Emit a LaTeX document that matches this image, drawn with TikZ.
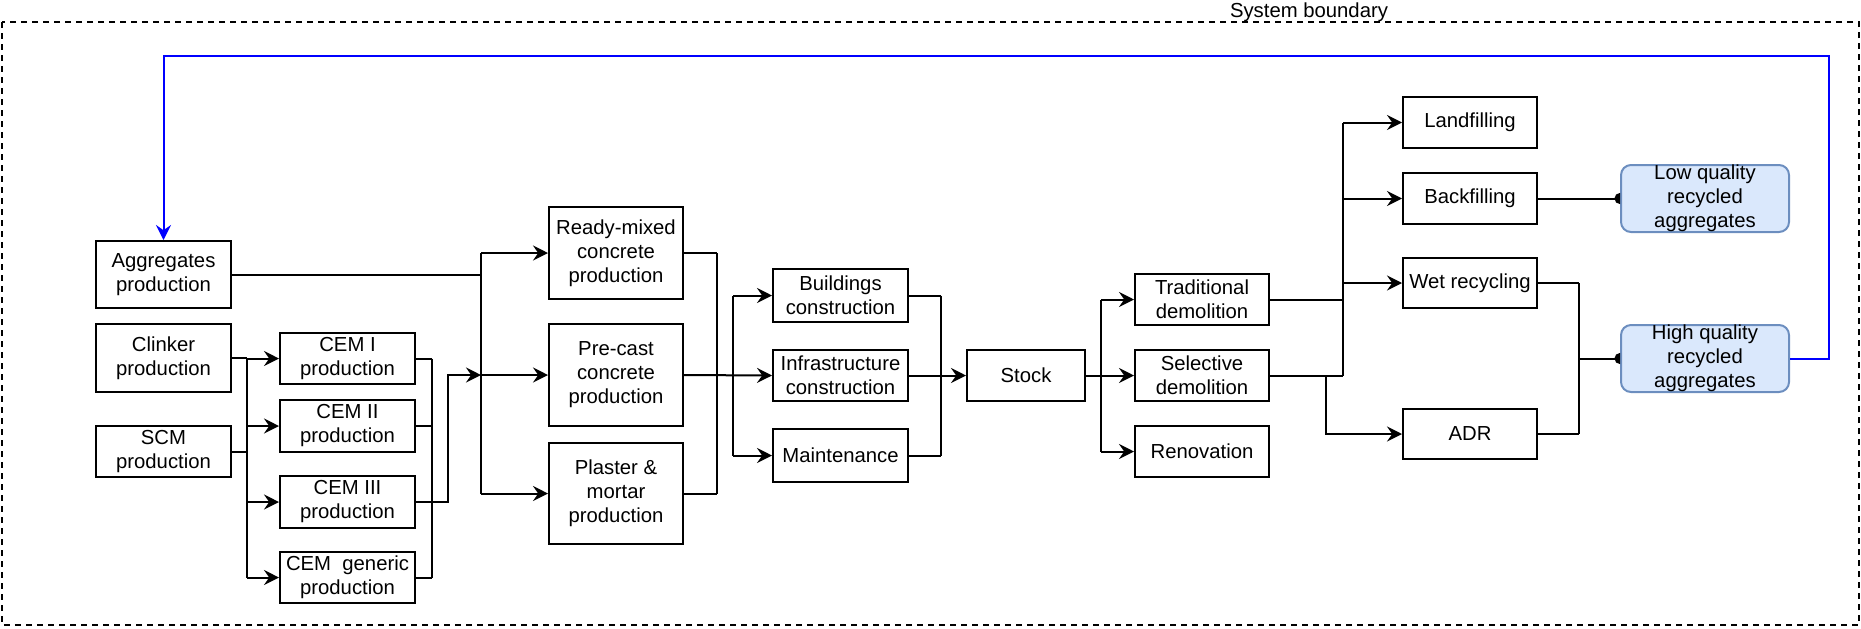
\documentclass[tikz,border=0pt]{standalone}
\usepackage{fontspec}
\setmainfont{Liberation Sans}
\usetikzlibrary{arrows.meta}

\definecolor{rafill}{HTML}{DAE8FC}
\definecolor{radraw}{HTML}{6C8EBF}
\definecolor{loopblue}{HTML}{0000FF}

% box given by its corners (x1,y1)--(x2,y2) in pixel units
\newcommand\pbox[7][]{%
  \node[box,#1,minimum width={(#5-#3)*0.5pt},minimum height={(#6-#4)*0.5pt}]
    (#2) at ({(#3+#5)/2},{(#4+#6)/2}) {#7};}
% half disc marking the end of a link on a box's left side
\newcommand\halfdot[1]{%
  \fill ([yshift=2.8pt]#1) arc[start angle=90,end angle=270,radius=2.8pt] -- cycle;}

\begin{document}
\begin{tikzpicture}[x=0.5pt,y=-0.5pt,
  box/.style={draw,line width=1pt,inner sep=0pt,align=center,
    font=\fontsize{10.15}{12}\selectfont},
  soft/.style={draw=radraw,fill=rafill,rounded corners=5pt,inner ysep=-3pt},
  link/.style={line width=1pt},
  arr/.style={link,-{Stealth[length=7.5pt,width=7.5pt,inset=2.6pt]}},
  loopline/.style={link,draw=loopblue,-{Stealth[length=7.5pt,width=7.5pt,inset=2.6pt,color=loopblue]}}]

\useasboundingbox (0,0) rectangle (1861,628);

% system boundary
\draw[line width=0.7pt,dash pattern=on 3pt off 2.5pt] (2,22) rectangle (1859,625);
\node[anchor=base,inner sep=0pt,font=\fontsize{10.15}{12}\selectfont] (sb) at (1309,17) {System boundary};

% raw materials and cements
\pbox{agg}{96}{241}{231}{308}{Aggregates\\production}
\pbox{clk}{96}{324}{231}{392}{Clinker\\production}
\pbox{scm}{96}{426}{231}{477}{SCM\\production}
\pbox{cem1}{280}{333}{415}{384}{CEM I\\production}
\pbox{cem2}{280}{400}{415}{452}{CEM II\\production}
\pbox{cem3}{280}{476}{415}{528}{CEM III\\production}
\pbox{cemg}{280}{552}{415}{603}{CEM\ \ generic\\production}

% products
\pbox{rmc}{549}{207}{683}{299}{Ready-mixed\\concrete\\production}
\pbox{pcc}{549}{324}{683}{426}{Pre-cast\\concrete\\production}
\pbox{pmp}{549}{443}{683}{544}{Plaster \&\\mortar\\production}

% uses
\pbox{bld}{773}{269}{908}{322}{Buildings\\construction}
\pbox{inf}{773}{350}{908}{401}{Infrastructure\\construction}
\pbox{mnt}{773}{429}{908}{482}{Maintenance}
\pbox{stk}{967}{350}{1085}{401}{Stock}

% end of life
\pbox{trd}{1135}{274}{1269}{325}{Traditional\\demolition}
\pbox{sel}{1135}{350}{1269}{401}{Selective\\demolition}
\pbox{ren}{1135}{426}{1269}{477}{Renovation}
\pbox{lnd}{1403}{97}{1537}{148}{Landfilling}
\pbox{bck}{1403}{173}{1537}{224}{Backfilling}
\pbox{wet}{1403}{258}{1537}{308}{Wet recycling}
\pbox{adr}{1403}{409}{1537}{459}{ADR}
\pbox[soft]{lqa}{1621}{165}{1789}{232}{Low quality\\recycled\\aggregates}
\pbox[soft]{hqa}{1621}{325}{1789}{392}{High quality\\recycled\\aggregates}

% vertical buses
\coordinate (bA) at (481,0);
\coordinate (bB) at (247,0);
\coordinate (bC) at (432,0);
\coordinate (bD) at (448,0);
\coordinate (bE) at (717,0);
\coordinate (bF) at (733,0);
\coordinate (bG) at (941,0);
\coordinate (bH) at (1101,0);
\coordinate (bI) at (1343,0);
\coordinate (bJ) at (1326,0);
\coordinate (bK) at (1579,0);
\coordinate (ret) at (1829,56);

% clinker and SCM to the cements
\draw[link] (clk.east) -- (clk.east -| bB);
\draw[link] (scm.east) -- (scm.east -| bB);
\draw[link] (cem1.west -| bB) -- (cemg.west -| bB);
\foreach \c in {cem1,cem2,cem3,cemg}
  \draw[arr] (\c.west -| bB) -- (\c.west);

% cements to the products
\foreach \c in {cem1,cem2,cemg}
  \draw[link] (\c.east) -- (\c.east -| bC);
\draw[link] (cem1.east -| bC) -- (cemg.east -| bC);
\draw[arr] (cem3.east) -- (cem3.east -| bD) |- (pcc.west -| bA);
\draw[link] (agg.east) -- (agg.east -| bA);
\draw[link] (rmc.west -| bA) -- (pmp.west -| bA);
\foreach \p in {rmc,pcc,pmp}
  \draw[arr] (\p.west -| bA) -- (\p.west);

% products to uses
\draw[link] (rmc.east) -- (rmc.east -| bE);
\draw[link] (pmp.east) -- (pmp.east -| bE);
\draw[link] (rmc.east -| bE) -- (pmp.east -| bE);
\draw[arr] (pcc.east) -- (inf.west);
\draw[link] (bld.west -| bF) -- (mnt.west -| bF);
\draw[arr] (bld.west -| bF) -- (bld.west);
\draw[arr] (mnt.west -| bF) -- (mnt.west);

% uses to stock
\draw[link] (bld.east) -- (bld.east -| bG);
\draw[link] (mnt.east) -- (mnt.east -| bG);
\draw[link] (bld.east -| bG) -- (mnt.east -| bG);
\draw[arr] (inf.east) -- (stk.west);

% stock to end of life
\draw[arr] (stk.east) -- (sel.west);
\draw[link] (trd.west -| bH) -- (ren.west -| bH);
\draw[arr] (trd.west -| bH) -- (trd.west);
\draw[arr] (ren.west -| bH) -- (ren.west);

% demolition to treatment
\draw[link] (trd.east) -- (trd.east -| bI);
\draw[link] (sel.east) -- (sel.east -| bI);
\draw[link] (lnd.west -| bI) -- (sel.east -| bI);
\foreach \t in {lnd,bck,wet}
  \draw[arr] (\t.west -| bI) -- (\t.west);
\draw[arr] (sel.east -| bJ) |- (adr.west);

% treatment to recycled aggregates
\draw[link] (bck.east) -- (lqa.west);
\halfdot{lqa.west}
\draw[link] (wet.east) -- (wet.east -| bK);
\draw[link] (adr.east) -- (adr.east -| bK);
\draw[link] (wet.east -| bK) -- (adr.east -| bK);
\draw[link] (hqa.west -| bK) -- (hqa.west);
\halfdot{hqa.west}

% recycled aggregates back to aggregates production
\draw[loopline] (hqa.east) -| (ret) -| (agg.north);

\end{tikzpicture}
\end{document}
